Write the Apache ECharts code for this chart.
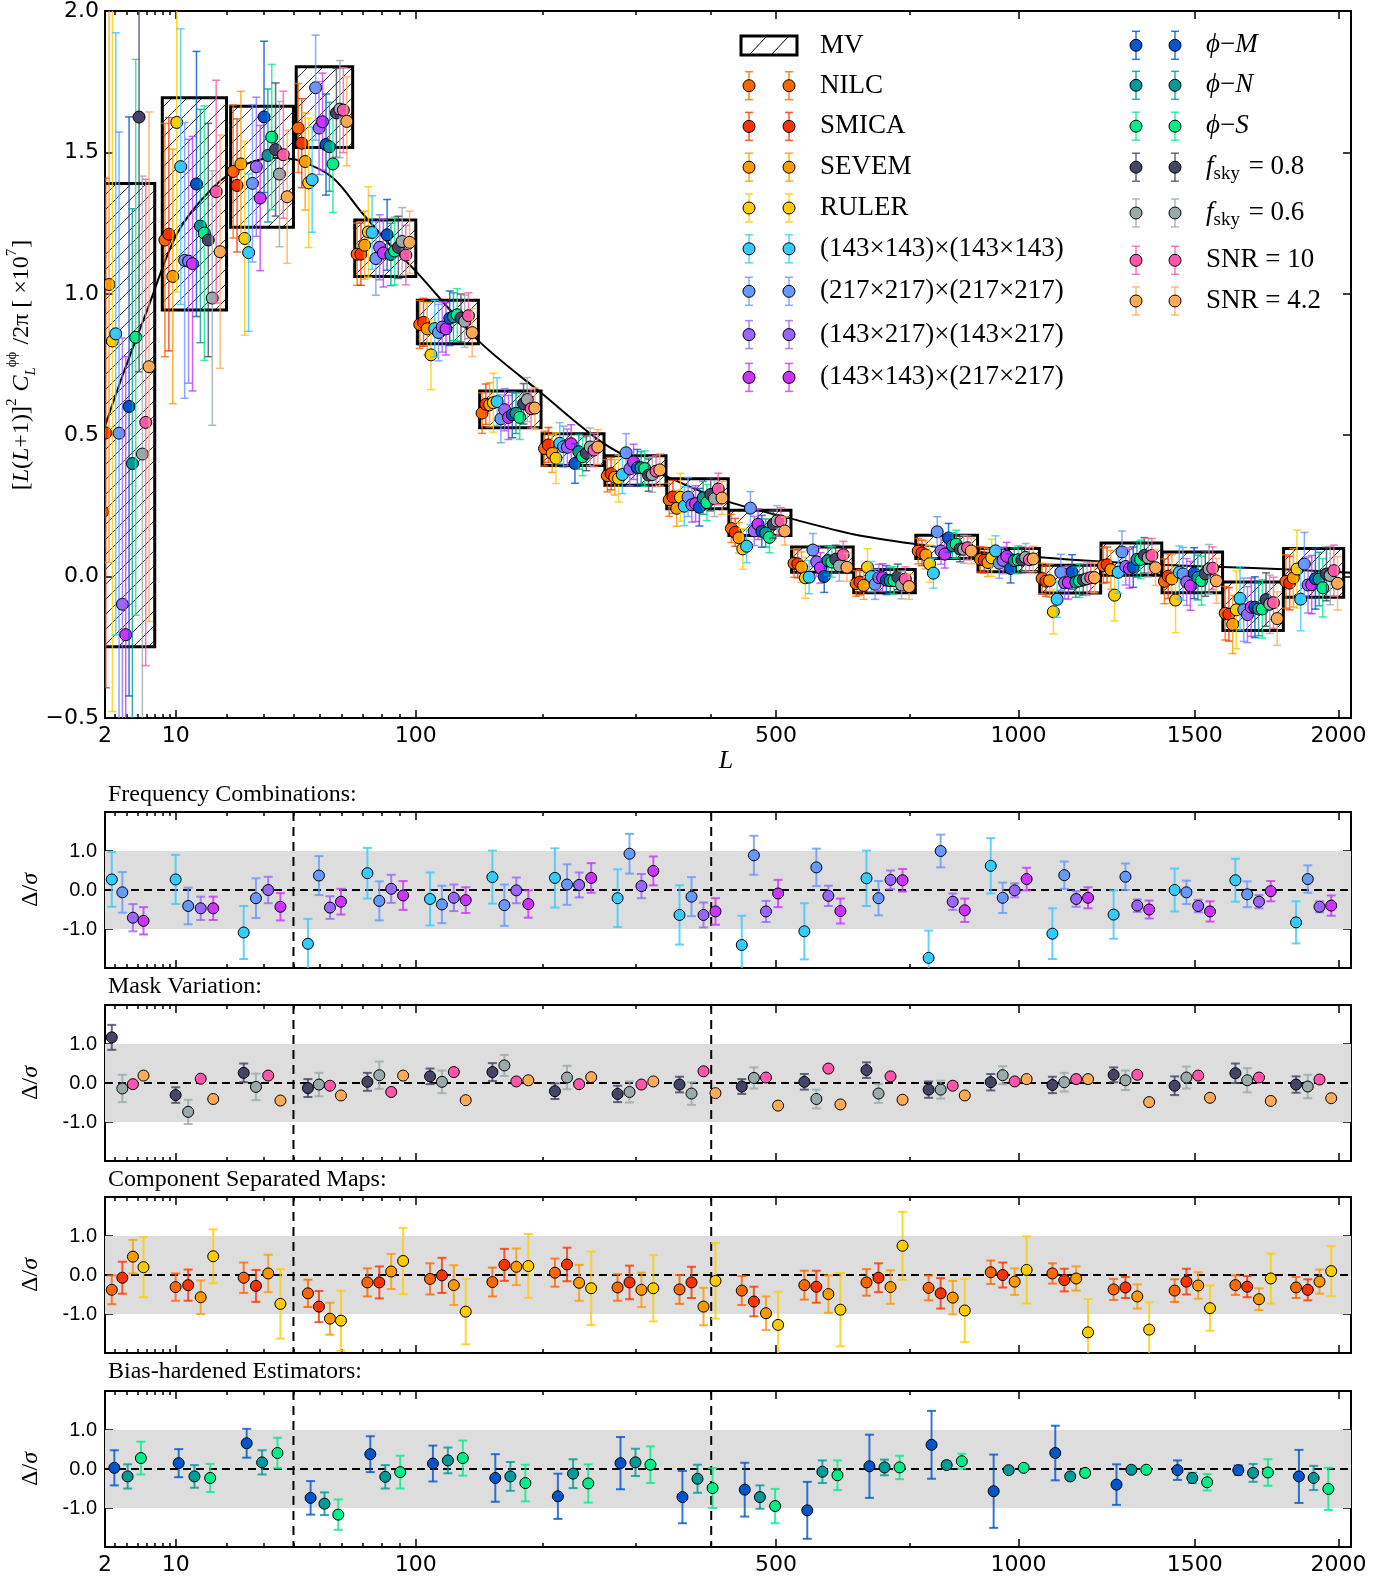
<!DOCTYPE html>
<html>
<head>
<meta charset="utf-8">
<title>Lensing bandpowers and consistency tests</title>
<script src="https://cdn.jsdelivr.net/npm/echarts@6/dist/echarts.min.js"></script>
<style>
  html, body { margin: 0; padding: 0; background: #fff; }
  #chart { width: 1397px; height: 1577px; }
</style>
</head>
<body>
<div id="chart"></div>
<script>
// multipole bins (edges)
const binLo = [2, 8, 21, 41, 66, 101, 145, 199, 264, 339, 426, 526, 638, 763, 902, 1054, 1219, 1398, 1591, 1799];
const binHi = [7, 20, 40, 65, 100, 144, 198, 263, 338, 425, 525, 637, 762, 901, 1053, 1218, 1397, 1590, 1798, 2020];

// MV bandpowers [L(L+1)]^2 C_L / 2pi x 1e7 and their 1-sigma errors
const mvBand = [0.571, 1.318, 1.449, 1.66, 1.161, 0.90, 0.591, 0.449, 0.375, 0.293, 0.19, 0.06, -0.016, 0.105, 0.058, -0.009, 0.062, 0.015, -0.105, 0.013];
const mvErr  = [0.819, 0.375, 0.214, 0.143, 0.10, 0.077, 0.065, 0.056, 0.052, 0.053, 0.045, 0.045, 0.041, 0.041, 0.041, 0.049, 0.057, 0.072, 0.086, 0.086];

// fiducial model curve
const theoryL = [2.3, 3.54, 6.05, 10.2, 16.9, 25.3, 34.2, 42.4, 55.8, 70, 88, 100, 145, 198, 263, 338, 425, 525, 637, 762, 901, 1053, 1218, 1397, 1590, 1798, 2048];
const theoryV = [0.535, 0.705, 0.94, 1.213, 1.375, 1.46, 1.48, 1.47, 1.41, 1.283, 1.15, 1.08, 0.83, 0.65, 0.47, 0.355, 0.265, 0.205, 0.15, 0.115, 0.088, 0.068, 0.053, 0.042, 0.034, 0.026, 0.014];

// Delta/sigma per bin (lower panels) and the error on it
const f143Delta  = [0.27, 0.27, -1.09, -1.38, 0.43, -0.23, 0.33, 0.31, -0.21, -0.64, -1.41, -1.06, 0.30, -1.74, 0.62, -1.12, -0.63, 0.0, 0.25, -0.83];
const f143Err    = [0.70, 0.63, 0.68, 0.64, 0.65, 0.68, 0.68, 0.76, 0.74, 0.76, 0.75, 0.72, 0.71, 0.70, 0.71, 0.65, 0.62, 0.55, 0.55, 0.54];
const f217Delta  = [-0.06, -0.41, -0.21, 0.37, -0.28, -0.37, -0.39, 0.14, 0.93, -0.17, 0.89, 0.58, -0.21, 1.0, -0.20, 0.38, 0.34, -0.06, -0.11, 0.28];
const f217Err    = [0.52, 0.47, 0.51, 0.50, 0.50, 0.48, 0.53, 0.52, 0.51, 0.50, 0.50, 0.48, 0.44, 0.42, 0.39, 0.35, 0.34, 0.30, 0.33, 0.35];
const fCrossDelta = [-0.71, -0.47, 0.0, -0.45, 0.03, -0.20, -0.01, 0.13, 0.10, -0.64, -0.55, -0.15, 0.26, -0.30, -0.01, -0.23, -0.40, -0.41, -0.30, -0.43];
const fCrossErr   = [0.35, 0.30, 0.34, 0.29, 0.36, 0.34, 0.33, 0.32, 0.31, 0.32, 0.27, 0.26, 0.24, 0.21, 0.18, 0.20, 0.16, 0.16, 0.17, 0.14];
const fMixDelta  = [-0.79, -0.47, -0.43, -0.30, -0.14, -0.26, -0.36, 0.31, 0.49, -0.55, -0.09, -0.54, 0.25, -0.52, 0.28, -0.20, -0.50, -0.55, -0.03, -0.40];
const fMixErr    = [0.35, 0.30, 0.35, 0.33, 0.37, 0.33, 0.35, 0.38, 0.37, 0.34, 0.35, 0.32, 0.29, 0.30, 0.29, 0.27, 0.23, 0.26, 0.26, 0.26];

const fsky08Delta = [1.17, -0.31, 0.26, -0.13, 0.03, 0.17, 0.28, -0.21, -0.28, -0.04, -0.09, 0.03, 0.33, -0.17, 0.02, -0.05, 0.21, -0.07, 0.25, -0.04];
const fsky08Err   = [0.32, 0.20, 0.24, 0.23, 0.23, 0.20, 0.23, 0.20, 0.21, 0.20, 0.19, 0.20, 0.20, 0.21, 0.21, 0.21, 0.19, 0.24, 0.25, 0.21];
const fsky06Delta = [-0.14, -0.74, -0.10, -0.04, 0.20, 0.03, 0.45, 0.14, -0.23, -0.27, 0.13, -0.41, -0.27, -0.17, 0.20, 0.02, 0.07, 0.14, 0.07, -0.09];
const fsky06Err   = [0.35, 0.31, 0.34, 0.30, 0.35, 0.29, 0.27, 0.30, 0.27, 0.29, 0.27, 0.24, 0.24, 0.23, 0.23, 0.24, 0.25, 0.28, 0.31, 0.30];
const snr10Delta  = [-0.03, 0.11, 0.19, -0.07, -0.23, 0.28, 0.04, -0.03, -0.04, 0.30, 0.14, 0.37, 0.17, -0.07, 0.04, 0.10, 0.21, 0.19, 0.14, 0.09];
const snr42Delta  = [0.19, -0.41, -0.45, -0.32, 0.19, -0.44, 0.07, 0.15, 0.04, -0.26, -0.58, -0.55, -0.43, -0.32, 0.10, 0.10, -0.49, -0.38, -0.46, -0.39];

const nilcDelta  = [-0.38, -0.31, -0.07, -0.47, -0.19, -0.10, -0.18, 0.06, -0.32, -0.37, -0.40, -0.26, -0.19, -0.33, 0.07, 0.04, -0.37, -0.40, -0.26, -0.32];
const nilcErr    = [0.37, 0.35, 0.39, 0.35, 0.36, 0.40, 0.37, 0.36, 0.34, 0.37, 0.37, 0.37, 0.34, 0.32, 0.30, 0.26, 0.27, 0.29, 0.25, 0.27];
const smicaDelta = [-0.07, -0.26, -0.28, -0.81, -0.19, -0.01, 0.26, 0.27, -0.19, -0.19, -0.68, -0.30, -0.07, -0.47, 0.0, -0.13, -0.32, -0.17, -0.30, -0.38];
const smicaErr   = [0.41, 0.40, 0.41, 0.40, 0.41, 0.45, 0.41, 0.43, 0.43, 0.40, 0.38, 0.41, 0.37, 0.39, 0.32, 0.29, 0.27, 0.33, 0.27, 0.27];
const sevemDelta = [0.47, -0.57, 0.04, -1.12, 0.09, -0.26, 0.21, -0.20, -0.38, -0.81, -0.98, -0.49, -0.31, -0.58, -0.17, -0.09, -0.55, -0.27, -0.62, -0.17];
const sevemErr   = [0.43, 0.43, 0.48, 0.41, 0.45, 0.51, 0.47, 0.46, 0.44, 0.48, 0.43, 0.48, 0.43, 0.43, 0.34, 0.31, 0.31, 0.34, 0.28, 0.31];
const rulerDelta = [0.20, 0.48, -0.74, -1.17, 0.36, -0.94, 0.23, -0.34, -0.34, -0.15, -1.28, -0.89, 0.75, -0.91, 0.13, -1.47, -1.40, -0.85, -0.09, 0.10];
const rulerErr   = [0.77, 0.69, 0.89, 0.77, 0.85, 0.84, 0.82, 0.94, 0.85, 0.97, 0.85, 0.94, 0.87, 0.81, 0.86, 0.85, 0.70, 0.58, 0.64, 0.64];

const phiMDelta = [0.03, 0.15, 0.66, -0.74, 0.38, 0.14, -0.23, -0.70, 0.15, -0.72, -0.53, -1.06, 0.07, 0.62, -0.57, 0.41, -0.40, -0.03, -0.03, -0.19];
const phiMErr   = [0.45, 0.36, 0.37, 0.43, 0.46, 0.46, 0.61, 0.58, 0.67, 0.67, 0.69, 0.73, 0.81, 0.87, 0.94, 0.70, 0.52, 0.25, 0.12, 0.68];
const phiNDelta = [-0.19, -0.19, 0.17, -0.89, -0.20, 0.22, -0.19, -0.12, 0.17, -0.25, -0.72, -0.07, 0.04, 0.10, -0.03, -0.19, -0.02, -0.23, -0.10, -0.23];
const phiNErr   = [0.31, 0.29, 0.31, 0.29, 0.30, 0.33, 0.37, 0.37, 0.35, 0.36, 0.30, 0.29, 0.20, 0.10, 0.08, 0.08, 0.08, 0.13, 0.23, 0.31];
const phiSDelta = [0.28, -0.23, 0.41, -1.17, -0.08, 0.28, -0.36, -0.37, 0.11, -0.49, -0.95, -0.16, 0.04, 0.20, 0.03, -0.10, -0.02, -0.34, -0.09, -0.51];
const phiSErr   = [0.42, 0.36, 0.39, 0.39, 0.42, 0.45, 0.47, 0.49, 0.47, 0.51, 0.44, 0.38, 0.30, 0.19, 0.08, 0.08, 0.08, 0.21, 0.34, 0.54];

// size of each estimate's own error bar in the top panel, in units of the MV error
const mainErrScale = [1.1, 1.1, 1.2, 1.6, 1.3, 1.3, 1.15, 1.2, 1.25, 1.1, 1.2, 1.1, 1.2, 1.05, 1.1];

// x axis is linear in L^0.4
const P = 0.4;
const U = L => Math.pow(L, P);
const U_MIN = U(2.28), U_MAX = U(2048);
const majorL = [10, 100, 500, 1000, 1500, 2000];
const minorL = [3, 4, 5, 6, 7, 8, 9, 20, 30, 40, 50, 60, 70, 80, 90, 200, 300, 400, 750];
const labelU = [U_MIN].concat(majorL.map(U));
const fmtL = v => Math.abs(v - U_MIN) < 1e-6 ? '2' : String(Math.round(Math.pow(v, 1 / P)));

const estimators = [
  { name: 'NILC',  color: '#ff6600', delta: nilcDelta,  err: nilcErr,  panel: 3 },
  { name: 'SMICA', color: '#ff3300', delta: smicaDelta, err: smicaErr, panel: 3 },
  { name: 'SEVEM', color: '#ff9900', delta: sevemDelta, err: sevemErr, panel: 3 },
  { name: 'RULER', color: '#ffcc00', delta: rulerDelta, err: rulerErr, panel: 3 },
  { name: '(143×143)×(143×143)', color: '#33ccff', delta: f143Delta, err: f143Err, panel: 1 },
  { name: '(217×217)×(217×217)', color: '#6699ff', delta: f217Delta, err: f217Err, panel: 1 },
  { name: '(143×217)×(143×217)', color: '#9966ff', delta: fCrossDelta, err: fCrossErr, panel: 1 },
  { name: '(143×143)×(217×217)', color: '#cc33ff', delta: fMixDelta, err: fMixErr, panel: 1 },
  { name: '{i|ϕ}{n|−}{i|M}', color: '#0055cc', delta: phiMDelta, err: phiMErr, panel: 4 },
  { name: '{i|ϕ}{n|−}{i|N}', color: '#009999', delta: phiNDelta, err: phiNErr, panel: 4 },
  { name: '{i|ϕ}{n|−}{i|S}', color: '#00ee88', delta: phiSDelta, err: phiSErr, panel: 4 },
  { name: '{i|f}{sub|sky}{n| = 0.8}', color: '#444466', delta: fsky08Delta, err: fsky08Err, panel: 2 },
  { name: '{i|f}{sub|sky}{n| = 0.6}', color: '#99aaaa', delta: fsky06Delta, err: fsky06Err, panel: 2 },
  { name: '{n|SNR = 10}',  color: '#ff55aa', delta: snr10Delta, err: null, panel: 2 },
  { name: '{n|SNR = 4.2}', color: '#ffaa55', delta: snr42Delta, err: null, panel: 2 },
];

const panelTitles = ['Frequency Combinations:', 'Mask Variation:', 'Component Separated Maps:', 'Bias-hardened Estimators:'];

const grids = [
  { left: 105, top: 10, width: 1246, height: 708 },
  { left: 105, top: 812, width: 1246, height: 156 },
  { left: 105, top: 1005, width: 1246, height: 156 },
  { left: 105, top: 1197, width: 1246, height: 156 },
  { left: 105, top: 1391, width: 1246, height: 156 },
];

function rgba(hex, a) {
  const n = parseInt(hex.slice(1), 16);
  return 'rgba(' + (n >> 16) + ',' + ((n >> 8) & 255) + ',' + (n & 255) + ',' + a + ')';
}

const uLo = b => U(binLo[b]), uHi = b => U(binHi[b]);
const uMid = b => (uLo(b) + uHi(b)) / 2;
function xMain(b, s) {
  return uMid(b) + (s - 7) * 0.0614 * (uHi(b) - uLo(b)) - 0.03;
}
function xSub(b, i, n) {
  const frac = n === 3 ? 0.245 : 0.195;
  return uMid(b) + (i - (n - 1) / 2) * frac * (uHi(b) - uLo(b));
}

// ---------- axes ----------
const frame = { show: true, onZero: false, lineStyle: { color: '#000', width: 2 } };
const noLine = { show: false, onZero: false };
const tickLine = { color: '#000', width: 1.5 };
const xAxes = [], yAxes = [];
grids.forEach((g, gi) => {
  const showLabels = gi === 0 || gi === 4;
  const base = { gridIndex: gi, type: 'value', min: U_MIN, max: U_MAX, splitLine: { show: false } };
  xAxes.push(
    Object.assign({}, base, {
      position: 'bottom', axisLine: frame,
      axisTick: { show: true, inside: true, length: 8, customValues: majorL.map(U), lineStyle: tickLine },
      axisLabel: { show: showLabels, customValues: labelU, formatter: fmtL, fontFamily: 'DejaVu Sans', fontSize: 22, color: '#000', margin: 7 }
    }),
    Object.assign({}, base, {
      position: 'bottom', axisLine: noLine,
      axisTick: { show: true, inside: true, length: 4, customValues: minorL.map(U), lineStyle: tickLine },
      axisLabel: { show: false }
    }),
    Object.assign({}, base, {
      position: 'top', axisLine: frame,
      axisTick: { show: true, inside: true, length: 8, customValues: majorL.map(U), lineStyle: tickLine },
      axisLabel: { show: false }
    }),
    Object.assign({}, base, {
      position: 'top', axisLine: noLine,
      axisTick: { show: true, inside: true, length: 4, customValues: minorL.map(U), lineStyle: tickLine },
      axisLabel: { show: false }
    })
  );
  if (gi === 0) {
    const yb = { gridIndex: 0, type: 'value', min: -0.5, max: 2, interval: 0.5, splitLine: { show: false }, axisLine: frame };
    yAxes.push(
      Object.assign({}, yb, {
        position: 'left',
        axisTick: { show: true, inside: true, length: 8, lineStyle: tickLine },
        axisLabel: { fontFamily: 'DejaVu Sans', fontSize: 22, color: '#000', margin: 6,
          formatter: v => (v < 0 ? '\u2212' : '') + Math.abs(v).toFixed(1) }
      }),
      Object.assign({}, yb, {
        position: 'right',
        axisTick: { show: true, inside: true, length: 8, lineStyle: tickLine },
        axisLabel: { show: false }
      })
    );
  } else {
    const yb = { gridIndex: gi, type: 'value', min: -2, max: 2, splitLine: { show: false }, axisLine: frame };
    yAxes.push(
      Object.assign({}, yb, {
        position: 'left',
        axisTick: { show: true, inside: true, length: 8, customValues: [-1, 0, 1], lineStyle: tickLine },
        axisLabel: { customValues: [-1, 0, 1], fontFamily: 'Liberation Sans', fontSize: 20, color: '#000', margin: 8,
          formatter: v => v.toFixed(1) }
      }),
      Object.assign({}, yb, {
        position: 'right',
        axisTick: { show: true, inside: true, length: 8, customValues: [-1, 0, 1], lineStyle: tickLine },
        axisLabel: { show: false }
      })
    );
  }
});

// ---------- series ----------
function errSeries(gi, color, data, o) {
  const barColor = rgba(color, 0.8);
  return {
    type: 'custom', xAxisIndex: 4 * gi, yAxisIndex: 2 * gi, clip: true, silent: true, z: 5,
    data: data, encode: { x: 0, y: 1 },
    renderItem(params, api) {
      const u = api.value(0), v = api.value(1), e = api.value(2);
      const c = api.coord([u, v]);
      const kids = [];
      if (e > 0) {
        const t = api.coord([u, v + e])[1], b = api.coord([u, v - e])[1];
        const st = { stroke: barColor, lineWidth: o.lw };
        kids.push(
          { type: 'line', shape: { x1: c[0], y1: t, x2: c[0], y2: b }, style: st },
          { type: 'line', shape: { x1: c[0] - o.cap, y1: t, x2: c[0] + o.cap, y2: t }, style: st },
          { type: 'line', shape: { x1: c[0] - o.cap, y1: b, x2: c[0] + o.cap, y2: b }, style: st }
        );
      }
      kids.push({ type: 'circle', shape: { cx: c[0], cy: c[1], r: o.r }, style: { fill: color, stroke: '#000', lineWidth: 1 } });
      return { type: 'group', children: kids };
    }
  };
}

const series = [];

// MV boxes with hatching
series.push({
  type: 'custom', xAxisIndex: 0, yAxisIndex: 0, clip: true, silent: true, z: 2,
  data: binLo.map((lo, b) => [uLo(b), uHi(b), mvBand[b] - mvErr[b], mvBand[b] + mvErr[b]]),
  encode: { x: [0, 1], y: [2, 3] },
  renderItem(params, api) {
    const p0 = api.coord([api.value(0), api.value(3)]);
    const p1 = api.coord([api.value(1), api.value(2)]);
    const x0 = p0[0], y0 = p0[1], x1 = p1[0], y1 = p1[1];
    const kids = [];
    const step = 15;
    for (let c = Math.ceil((x0 + y0) / step) * step; c <= x1 + y1; c += step) {
      const xa = Math.max(x0, c - y1), xb = Math.min(x1, c - y0);
      if (xb - xa < 0.5) continue;
      kids.push({ type: 'line', shape: { x1: xa, y1: c - xa, x2: xb, y2: c - xb }, style: { stroke: '#000', lineWidth: 0.8 } });
    }
    kids.push({ type: 'rect', shape: { x: x0, y: y0, width: x1 - x0, height: y1 - y0 }, style: { fill: 'transparent', stroke: '#000', lineWidth: 3 } });
    return { type: 'group', children: kids };
  }
});

// model curve
series.push({
  type: 'line', xAxisIndex: 0, yAxisIndex: 0, silent: true, z: 3, clip: true,
  data: theoryL.map((L, i) => [U(L), theoryV[i]]),
  smooth: 0.3, symbol: 'none', lineStyle: { color: '#000', width: 2 }
});

// top panel: each estimate, converted back from Delta/sigma with its own error bar
estimators.forEach((est, s) => {
  const data = binLo.map((lo, b) => {
    const sig = mvErr[b] * mainErrScale[s];
    return [xMain(b, s), mvBand[b] + est.delta[b] * sig, sig];
  });
  series.push(errSeries(0, est.color, data, { r: 6, cap: 4, lw: 1.5 }));
});

// lower panels
[1, 2, 3, 4].forEach(p => {
  series.push({
    type: 'custom', xAxisIndex: 4 * p, yAxisIndex: 2 * p, clip: true, silent: true, z: 1,
    data: [[U_MIN, 0]], encode: { x: 0, y: 1 },
    renderItem(params, api) {
      const a = api.coord([U_MIN, 1]), b = api.coord([U_MAX, -1]);
      const z0 = api.coord([U_MIN, 0]), z1 = api.coord([U_MAX, 0]);
      const top = api.coord([U_MIN, 2])[1], bot = api.coord([U_MIN, -2])[1];
      const dash = { stroke: '#000', lineWidth: 2, lineDash: [9, 6] };
      const kids = [
        { type: 'rect', shape: { x: a[0], y: a[1], width: b[0] - a[0], height: b[1] - a[1] }, style: { fill: '#dddddd' } },
        { type: 'line', shape: { x1: z0[0], y1: z0[1], x2: z1[0], y2: z1[1] }, style: { stroke: '#000', lineWidth: 2, lineDash: [8, 5] } }
      ];
      [40, 400].forEach(L => {
        const x = api.coord([U(L), 0])[0];
        kids.push({ type: 'line', shape: { x1: x, y1: top, x2: x, y2: bot }, style: dash });
      });
      return { type: 'group', children: kids };
    }
  });
  const members = estimators.filter(e => e.panel === p);
  members.forEach((est, i) => {
    const data = binLo.map((lo, b) => [xSub(b, i, members.length), est.delta[b], est.err ? est.err[b] : 0]);
    series.push(errSeries(p, est.color, data, { r: 5.5, cap: 4.5, lw: 2 }));
  });
});

// ---------- legend and labels ----------
const serif = 'Liberation Serif';
const richBase = {
  n: { fontFamily: serif, fontSize: 27, fill: '#000' },
  i: { fontFamily: serif, fontSize: 27, fontStyle: 'italic', fill: '#000' },
  sub: { fontFamily: serif, fontSize: 19, fill: '#000', padding: [14, 2, 0, 0] }
};
function legendMarker(x, y, color) {
  const st = { stroke: rgba(color, 0.8), lineWidth: 1.5 };
  return { type: 'group', x: x, y: y, silent: true, children: [
    { type: 'line', shape: { x1: 0, y1: -14, x2: 0, y2: 14 }, style: st },
    { type: 'line', shape: { x1: -4, y1: -14, x2: 4, y2: -14 }, style: st },
    { type: 'line', shape: { x1: -4, y1: 14, x2: 4, y2: 14 }, style: st },
    { type: 'circle', shape: { cx: 0, cy: 0, r: 6 }, style: { fill: color, stroke: '#000', lineWidth: 1 } }
  ] };
}
const graphic = [];
const leftRows = [85.7, 126.4, 167.2, 208, 248.8, 291.3, 334.6, 377.4];
const rightRows = [45.3, 85.3, 126.2, 167.2, 213, 260.3, 301];
// MV entry
graphic.push({ type: 'group', silent: true, children: [
  { type: 'rect', shape: { x: 741, y: 36, width: 56, height: 19 }, style: { fill: '#fff', stroke: '#000', lineWidth: 3 } },
  { type: 'line', shape: { x1: 750, y1: 54, x2: 766, y2: 37 }, style: { stroke: '#000', lineWidth: 1 } },
  { type: 'line', shape: { x1: 772, y1: 54, x2: 788, y2: 37 }, style: { stroke: '#000', lineWidth: 1 } }
] });
graphic.push({ type: 'text', x: 820, y: 45.5, silent: true, style: { text: 'MV', fontFamily: serif, fontSize: 27, fill: '#000', textVerticalAlign: 'middle' } });
estimators.forEach((est, s) => {
  let mx1, mx2, tx, y;
  if (s < 8) { mx1 = 749; mx2 = 789; tx = 820; y = leftRows[s]; }
  else { mx1 = 1136; mx2 = 1175; tx = 1206; y = rightRows[s - 8]; }
  graphic.push(legendMarker(mx1, y, est.color), legendMarker(mx2, y, est.color));
  const txt = est.name.indexOf('{') === 0 ? est.name : '{n|' + est.name + '}';
  graphic.push({ type: 'text', x: tx, y: y, silent: true, style: { text: txt, rich: richBase, textVerticalAlign: 'middle' } });
});

// main y label
graphic.push({
  type: 'text', x: 22, y: 365, rotation: Math.PI / 2, silent: true,
  style: {
    text: '{n|[}{i|L}{n|(}{i|L}{n|+1)]}{sp|2}{i| C}{sb|L}{sp|ϕϕ}{n| /2π [ ×10}{sp|7}{n|]}',
    textAlign: 'center', textVerticalAlign: 'middle',
    rich: {
      n: { fontFamily: serif, fontSize: 24, fill: '#000', lineHeight: 34 },
      i: { fontFamily: serif, fontSize: 24, fontStyle: 'italic', fill: '#000', lineHeight: 34 },
      sp: { fontFamily: serif, fontSize: 15, fill: '#000', verticalAlign: 'top', padding: [0, 1, 10, 0] },
      sb: { fontFamily: serif, fontSize: 15, fontStyle: 'italic', fill: '#000', verticalAlign: 'bottom', padding: [10, 0, 0, 0] }
    }
  }
});
graphic.push({ type: 'text', x: 726, y: 761, silent: true,
  style: { text: 'L', fontFamily: serif, fontStyle: 'italic', fontSize: 26, fill: '#000', textAlign: 'center', textVerticalAlign: 'middle' } });

const titleY = [795, 987, 1180, 1372];
panelTitles.forEach((t, k) => {
  graphic.push({ type: 'text', x: 108, y: titleY[k], silent: true,
    style: { text: t, fontFamily: serif, fontSize: 24, fill: '#000', textVerticalAlign: 'middle' } });
  const g = grids[k + 1];
  graphic.push({ type: 'text', x: 31, y: g.top + g.height / 2, rotation: Math.PI / 2, silent: true,
    style: { text: '{n|Δ/}{i|σ}', textAlign: 'center', textVerticalAlign: 'middle',
      rich: { n: { fontFamily: serif, fontSize: 24, fill: '#000' }, i: { fontFamily: serif, fontSize: 24, fontStyle: 'italic', fill: '#000' } } } });
});

const chart = echarts.init(document.getElementById('chart'));
chart.setOption({
  animation: false,
  backgroundColor: '#fff',
  grid: grids,
  xAxis: xAxes,
  yAxis: yAxes,
  series: series,
  graphic: graphic
});
</script>
</body>
</html>
